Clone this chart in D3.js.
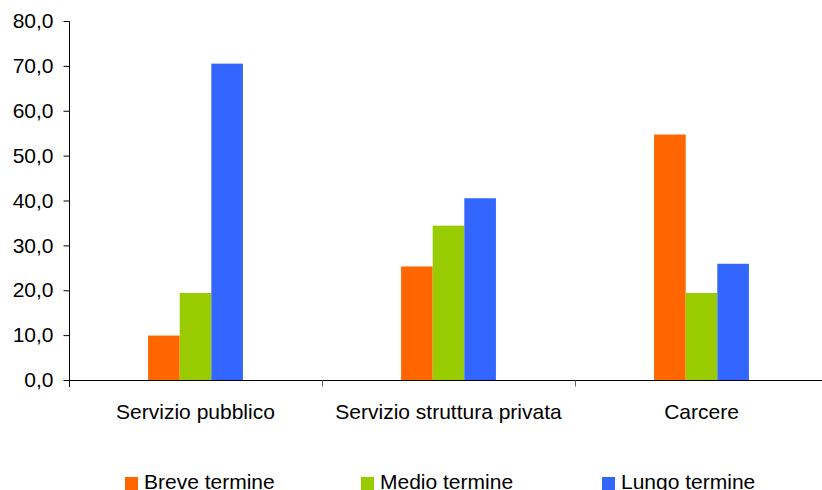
<!DOCTYPE html>
<html>
<head>
<meta charset="utf-8">
<script src="https://cdn.jsdelivr.net/npm/d3@7"></script>
<style>
  body { margin: 0; background: #fff; }
  svg { display: block; font-family: "Liberation Sans", Arial, sans-serif; }
</style>
</head>
<body>
<div id="chart"></div>
<script>
const categories = ["Servizio pubblico", "Servizio struttura privata", "Carcere"];
const seriesNames = ["Breve termine", "Medio termine", "Lungo termine"];
const breve = [9.9, 25.3, 54.7];
const medio = [19.4, 34.4, 19.4];
const lungo = [70.5, 40.5, 25.9];
const yTicks = [0, 10, 20, 30, 40, 50, 60, 70, 80];
const colors = ["#FF6600", "#99CC00", "#3366FF"];

const width = 822, height = 490;
const margin = { top: 21, right: -6, bottom: 110, left: 69 };

const svg = d3.select("#chart").append("svg")
    .attr("width", width)
    .attr("height", height);

const x0 = d3.scaleBand()
    .domain(categories)
    .range([margin.left, width - margin.right])
    .padding(0);

const bw = x0.bandwidth();
const x1 = d3.scaleBand()
    .domain(seriesNames)
    .range([bw * 0.3125, bw * 0.6875])
    .padding(0);

const y = d3.scaleLinear()
    .domain([0, 80])
    .range([height - margin.bottom, margin.top]);

const it = d3.formatLocale({ decimal: ",", thousands: ".", grouping: [3], currency: ["€", ""] });
const fmt = it.format(".1f");

const allSeries = [breve, medio, lungo];
const rows = categories.map((c, i) => ({
    cat: c,
    vals: seriesNames.map((s, j) => ({ key: s, value: allSeries[j][i], color: colors[j] }))
}));

// bars
svg.append("g").selectAll("g")
    .data(rows)
    .enter().append("g")
    .attr("transform", d => "translate(" + x0(d.cat) + ",0)")
    .selectAll("rect")
    .data(d => d.vals)
    .enter().append("rect")
    .attr("x", d => x1(d.key))
    .attr("width", x1.bandwidth())
    .attr("y", d => y(d.value))
    .attr("height", d => y(0) - y(d.value))
    .attr("fill", d => d.color);

// y axis
const yAxis = svg.append("g")
    .attr("transform", "translate(" + (margin.left + 0.5) + ",0)")
    .call(d3.axisLeft(y).tickValues(yTicks).tickFormat(fmt).tickSize(6).tickPadding(10));
yAxis.select(".domain").attr("d", "M0," + (y(80) + 0.5) + "V" + (y(0) + 7)).attr("stroke", "#000");
yAxis.selectAll(".tick line").attr("stroke", "#000");
yAxis.selectAll("text")
    .attr("font-size", 21)
    .attr("fill", "#000");

// x axis
const xAxisG = svg.append("g")
    .attr("transform", "translate(0," + (y(0) + 0.5) + ")");
xAxisG.append("line")
    .attr("x1", margin.left).attr("x2", width)
    .attr("stroke", "#000");
xAxisG.selectAll(".sep")
    .data(categories.slice(1))
    .enter().append("line")
    .attr("class", "sep")
    .attr("x1", d => Math.round(x0(d)) + 0.5)
    .attr("x2", d => Math.round(x0(d)) + 0.5)
    .attr("y1", 0).attr("y2", 6)
    .attr("stroke", "#666");
xAxisG.selectAll(".lbl")
    .data(categories)
    .enter().append("text")
    .attr("class", "lbl")
    .attr("x", d => x0(d) + bw / 2)
    .attr("y", 38)
    .attr("text-anchor", "middle")
    .attr("font-size", 21)
    .attr("fill", "#000")
    .text(d => d);

// legend
const legendX = [125, 361, 602];
const legend = svg.append("g").selectAll("g")
    .data(seriesNames)
    .enter().append("g")
    .attr("transform", (d, i) => "translate(" + legendX[i] + ",477)");
legend.append("rect")
    .attr("width", 13).attr("height", 13)
    .attr("fill", (d, i) => colors[i]);
legend.append("text")
    .attr("x", 19)
    .attr("y", 12)
    .attr("font-size", 21)
    .attr("fill", "#000")
    .text(d => d);
</script>
</body>
</html>
